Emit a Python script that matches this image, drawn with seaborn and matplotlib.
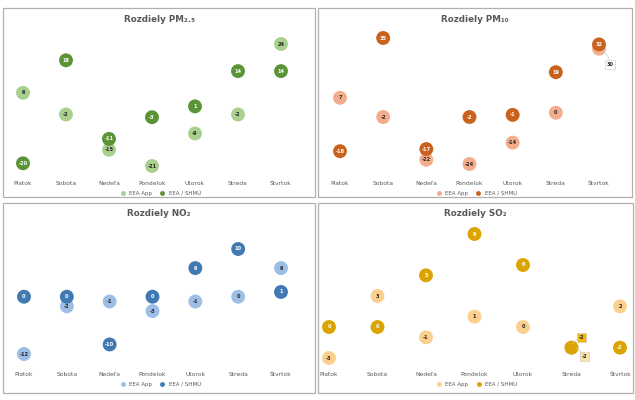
import matplotlib
matplotlib.use("Agg")
import matplotlib.pyplot as plt
import pandas as pd
import seaborn as sns
from matplotlib.patches import Rectangle

# data
days = ["Piatok", "Sobota", "Nedeľa", "Pondelok", "Utorok", "Streda", "Štvrtok"]
series_names = ["EEA App", "EEA / SHMÚ"]

pm25_app = [6, -2, -15, -21, -9, -2, 24]
pm25_shmu = [-20, 18, -11, -3, 1, 14, 14]
pm10_app = [7, -2, -22, -24, -14, 0, 30]
pm10_shmu = [-18, 35, -17, -2, -1, 19, 32]
no2_app = [-12, -2, -1, -3, -1, 0, 6]
no2_shmu = [0, 0, -10, 0, 6, 10, 1]
so2_app = [-3, 3, -1, 1, 0, -2, 2]
so2_shmu = [0, 0, 5, 9, 6, -2, -2]

W, H = 635, 400

sns.set_theme(style="white")
plt.rcParams['font.family'] = ['DejaVu Sans']

fig = plt.figure(figsize=(W / 100, H / 100), dpi=100)
fig.patch.set_facecolor('white')


def fx(px):
    return px / W


def fy(py):
    return 1 - py / H


def add_panel(title, app, shmu, colors, box, ax_px, x0, x6, ref1, ref2, legend_y, callouts=None):
    """
    One bordered panel: scatter of both series with value labels inside the dots

    box and ax_px are (left, top, right, bottom) in pixels,
    x0/x6 pixel position of first/last day, ref1/ref2 (value, pixel y) pairs,
    callouts maps (series, day) -> (offset in points, box colour)
    """
    callouts = callouts or {}
    bl, bt, br, bb = box
    fig.add_artist(Rectangle((fx(bl), fy(bb)), fx(br - bl), (bb - bt) / H, transform=fig.transFigure,
                             fill=False, edgecolor='#b0b0b0', lw=0.9))

    left, top, right, bottom = ax_px
    ax = fig.add_axes([fx(left), fy(bottom), fx(right - left), (bottom - top) / H])
    ax.set_facecolor('none')

    df = pd.DataFrame({
        'day': days * 2,
        'value': app + shmu,
        'series': [series_names[0]] * len(days) + [series_names[1]] * len(days),
    })
    sns.scatterplot(data=df, x='day', y='value', hue='series', palette=colors, s=100,
                    edgecolor='none', ax=ax, clip_on=False, zorder=3)

    # map pixels to data limits
    d = (x6 - x0) / 6
    ax.set_xlim((left - x0) / d, (right - x0) / d)
    (v1, y1), (v2, y2) = ref1, ref2
    k = (y2 - y1) / (v2 - v1)
    ax.set_ylim(v1 + (bottom - y1) / k, v1 + (top - y1) / k)

    # value labels
    for s_idx, vals in enumerate([app, shmu]):
        txt_color = '#262626' if s_idx == 0 else 'white'
        for i, v in enumerate(vals):
            if (s_idx, i) in callouts:
                off, fc = callouts[(s_idx, i)]
                ax.annotate(str(v), (i, v), xytext=off, textcoords='offset points',
                            fontsize=3.6, fontweight='bold', color='#262626', ha='center', va='center',
                            zorder=6,
                            bbox=dict(boxstyle='square,pad=0.35', fc=fc, ec='#c8c8c8', lw=0.4),
                            arrowprops=dict(arrowstyle='-', color='#c8c8c8', lw=0.5,
                                            connectionstyle='arc3,rad=0.3', shrinkA=0, shrinkB=3))
                continue
            ax.text(i, v, str(v), fontsize=3.6, fontweight='bold', color=txt_color,
                    ha='center', va='center', zorder=5)

    ax.set_xlabel('')
    ax.set_ylabel('')
    ax.set_yticks([])
    ax.tick_params(axis='x', length=0, labelsize=4.3, colors='#595959', pad=3.4)
    for spine in ax.spines.values():
        spine.set_visible(False)

    sns.move_legend(ax, 'center', bbox_to_anchor=(fx((bl + br) / 2), fy(legend_y)),
                    bbox_transform=fig.transFigure, ncol=2, frameon=False, title=None,
                    fontsize=4.0, markerscale=0.35, handletextpad=0.1, columnspacing=0.9,
                    labelcolor='#595959')

    fig.text(fx((bl + br) / 2), fy(bt + 11), title, ha='center', va='center',
             fontsize=6.3, fontweight='bold', color='#595959')
    return ax


add_panel('Rozdiely PM₂.₅', pm25_app, pm25_shmu, ['#a9d08e', '#5a9436'],
          box=(3, 8, 315, 197), ax_px=(3, 28, 315, 176), x0=23, x6=281,
          ref1=(24, 44), ref2=(-21, 166), legend_y=193)

add_panel('Rozdiely PM₁₀', pm10_app, pm10_shmu, ['#f3ad8d', '#c9621c'],
          box=(318, 8, 632, 197), ax_px=(318, 28, 632, 176), x0=340, x6=599,
          ref1=(35, 38), ref2=(-24, 164), legend_y=193,
          callouts={(0, 6): ((8, -11.5), 'white')})

add_panel('Rozdiely NO₂', no2_app, no2_shmu, ['#9dbee5', '#4179b3'],
          box=(3, 203, 315, 393), ax_px=(3, 222, 315, 367), x0=24, x6=281,
          ref1=(10, 249), ref2=(-12, 354), legend_y=384)

add_panel('Rozdiely SO₂', so2_app, so2_shmu, ['#fbd08e', '#dba400'],
          box=(318, 203, 633, 393), ax_px=(318, 222, 633, 367), x0=329, x6=620,
          ref1=(9, 234), ref2=(-3, 358), legend_y=384,
          callouts={(1, 5): ((7.2, 7.2), '#f2b90c'), (0, 5): ((9.4, -6.5), '#fde3a6')})

fig.savefig('out.png', dpi=100)
